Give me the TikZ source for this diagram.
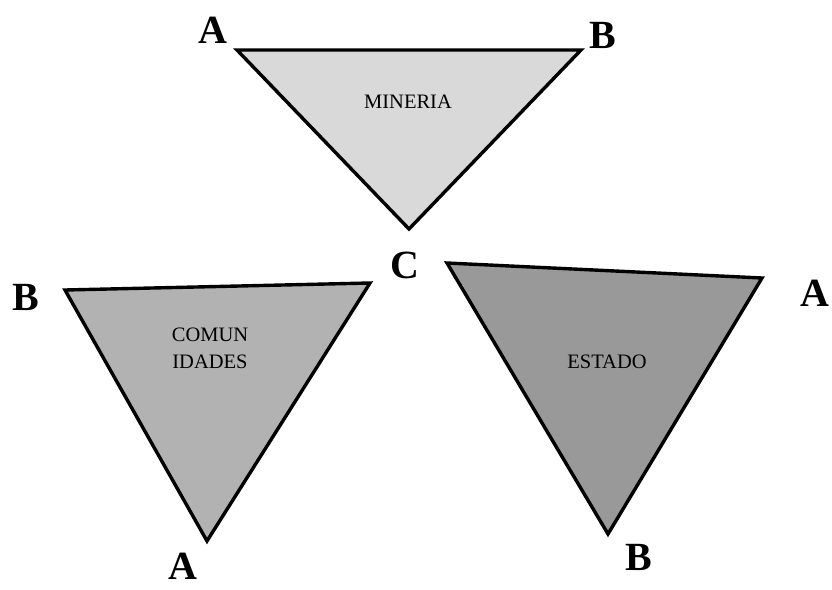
\documentclass[tikz,border=0pt]{standalone}
\usepackage{fontspec}
\setmainfont{Liberation Serif}

\begin{document}
\begin{tikzpicture}[x=1pt, y=-1pt, line width=3.4pt,
    vertex/.style={font=\fontsize{40}{44}\selectfont\bfseries, inner sep=0pt},
    actor/.style={font=\fontsize{20.5}{27}\selectfont, inner sep=0pt, align=center}]
    \useasboundingbox (0,0) rectangle (832,589);

    % Triángulo MINERIA
    \coordinate (mA) at (237,50);
    \coordinate (mB) at (581,50);
    \coordinate (mC) at (409,229);
    \filldraw[fill=black!15] (mA) -- (mB) -- (mC) -- cycle;
    \node[actor] (mineria) at (408,102) {MINERIA};
    \node[vertex] (labmA) at (213,30) {A};
    \node[vertex] (labmB) at (603,35) {B};
    \node[vertex] (labC) at (405,265) {C};

    % Triángulo COMUNIDADES
    \coordinate (cB) at (65,290);
    \coordinate (cC) at (370,283);
    \coordinate (cA) at (207,541);
    \filldraw[fill=black!30] (cB) -- (cC) -- (cA) -- cycle;
    \node[actor] (comunidades) at (210,348) {COMUN\\IDADES};
    \node[vertex] (labcB) at (26,297) {B};
    \node[vertex] (labcA) at (183,566) {A};

    % Triángulo ESTADO
    \coordinate (eC) at (447,263);
    \coordinate (eA) at (762,278);
    \coordinate (eB) at (608,534);
    \filldraw[fill=black!40] (eC) -- (eA) -- (eB) -- cycle;
    \node[actor] (estado) at (607,362) {ESTADO};
    \node[vertex] (labeA) at (815,293) {A};
    \node[vertex] (labeB) at (639,557) {B};
\end{tikzpicture}
\end{document}
